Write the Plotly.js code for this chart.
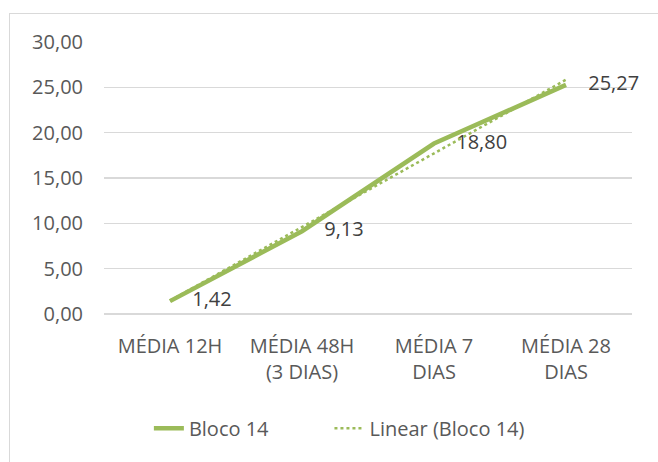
<!DOCTYPE html>
<html>
<head>
<meta charset="utf-8">
<script src="https://cdn.plot.ly/plotly-3.0.1.min.js"></script>
<style>
  html, body { margin: 0; padding: 0; background: #fff; }
  #wrap { position: relative; width: 658px; height: 462px; overflow: hidden; }
  #chart { position: absolute; left: 0; top: 0; width: 658px; height: 462px; }
  #frame { position: absolute; left: 9px; top: 13px; width: 700px; height: 500px;
           border-left: 1.5px solid #d9d9d9; border-top: 1.5px solid #d9d9d9;
           pointer-events: none; }
</style>
</head>
<body>
<div id="wrap">
  <div id="chart"></div>
  <div id="frame"></div>
</div>
<script>
// Compressive strength averages for block 14
const categories = ["MÉDIA 12H", "MÉDIA 48H<br>(3 DIAS)", "MÉDIA 7<br>DIAS", "MÉDIA 28<br>DIAS"];
const blocoValues = [1.42, 9.13, 18.80, 25.27];
const yTickValues = [0, 5, 10, 15, 20, 25, 30];
const seriesName = "Bloco 14";
const trendName = "Linear (Bloco 14)";

// least-squares linear trend over category index 1..n
function linearTrend(vals) {
  const n = vals.length;
  const xs = vals.map((_, i) => i + 1);
  const mx = xs.reduce((a, b) => a + b, 0) / n;
  const my = vals.reduce((a, b) => a + b, 0) / n;
  let sxy = 0, sxx = 0;
  for (let i = 0; i < n; i++) { sxy += (xs[i] - mx) * (vals[i] - my); sxx += (xs[i] - mx) ** 2; }
  const slope = sxy / sxx;
  return xs.map(x => my + slope * (x - mx));
}
const trendValues = linearTrend(blocoValues);

const green = "#9BBB59";
const textFont = { family: "Open Sans, sans-serif", size: 20, color: "#595959" };

const traces = [
  {
    x: categories, y: blocoValues, name: seriesName, type: "scatter",
    mode: "lines+markers+text",
    line: { color: green, width: 4.5 },
    marker: { size: 34, color: "rgba(0,0,0,0)" },
    texttemplate: "%{y:.2f}", textposition: "middle right",
    textfont: { family: "Open Sans, sans-serif", size: 20, color: "#404040" },
    cliponaxis: false,
    legend: "legend",
    hoverinfo: "skip"
  },
  {
    x: categories, y: trendValues, name: trendName, type: "scatter",
    mode: "lines",
    line: { color: green, width: 2.5, dash: "dot" },
    cliponaxis: false,
    legend: "legend2",
    hoverinfo: "skip"
  }
];

const legendBase = { orientation: "h", xanchor: "left", y: -0.42, yanchor: "middle", font: textFont };

const layout = {
  width: 658, height: 462,
  margin: { l: 104, r: 26, t: 42, b: 148 },
  paper_bgcolor: "#fff", plot_bgcolor: "#fff",
  separators: ",.",
  font: textFont,
  showlegend: true,
  legend: Object.assign({}, legendBase, { x: 0.085 }),
  legend2: Object.assign({}, legendBase, { x: 0.427 }),
  xaxis: {
    type: "category", range: [-0.5, 3.5],
    showgrid: false, showline: false, zeroline: false, ticks: "",
    tickfont: textFont, ticklabelstandoff: 18
  },
  yaxis: {
    range: [0, 30], tickvals: yTickValues, tickformat: ".2f",
    showgrid: true, gridcolor: "#d9d9d9", gridwidth: 1.5,
    zeroline: true, zerolinecolor: "#d9d9d9", zerolinewidth: 1.5,
    showline: false, ticks: "", tickfont: textFont, ticklabelstandoff: 20
  }
};

Plotly.newPlot("chart", traces, layout, { staticPlot: true, displayModeBar: false });
</script>
</body>
</html>
